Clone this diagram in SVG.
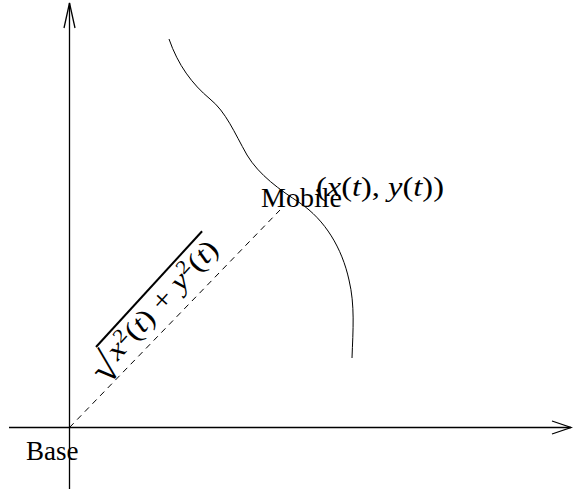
<svg xmlns="http://www.w3.org/2000/svg" width="573" height="489" viewBox="0 0 573 489">
<style>
.ax{stroke:#000;stroke-width:1.3;fill:none}
.cv{stroke:#000;stroke-width:1;fill:none}
.dash{stroke:#000;stroke-width:1;stroke-dasharray:6,5;fill:none}
.rm{font-family:"Liberation Serif",serif;fill:#000}
.it{font-style:italic}
</style>
<rect width="573" height="489" fill="#fff"/>
<g id="axes">
<line class="ax" x1="69.5" y1="489" x2="69.5" y2="3"/>
<polyline class="ax" points="64,28 69.5,3 75,28"/>
<line class="ax" x1="9" y1="427.5" x2="571" y2="427.5"/>
<polyline class="ax" points="552,421 571,427.5 552,434"/>
</g>
<g id="connectors">
<line class="dash" x1="69.5" y1="427.5" x2="280" y2="210"/>
</g>
<g id="trajectory">
<path class="cv" d="M169,39 C178,65 192,84 210,99 C226,112 234,132 247,155 C259,175 280,190 300,203 C325,220 342,248 349,280 C355,305 353,330 352,358"/>
</g>
<g id="base">
<text class="rm" x="26" y="460" font-size="27">Base</text>
</g>
<g id="mobile">
<text class="rm" x="261" y="207" font-size="28">Mobile</text>
<text class="rm" x="316" y="196" font-size="28" textLength="128" lengthAdjust="spacingAndGlyphs">(<tspan class="it">x</tspan>(<tspan class="it">t</tspan>), <tspan class="it">y</tspan>(<tspan class="it">t</tspan>))</text>
</g>
<g id="distance" transform="translate(96,347) rotate(-47.5)">
<line x1="0" y1="0" x2="157" y2="0" stroke="#000" stroke-width="2"/>
<text class="rm" x="-21" y="35" font-size="42">√</text>
<text class="rm" x="4" y="26" font-size="28" textLength="151" lengthAdjust="spacingAndGlyphs"><tspan class="it">x</tspan><tspan font-size="19" dy="-10">2</tspan><tspan dy="10">(</tspan><tspan class="it">t</tspan>) + <tspan class="it">y</tspan><tspan font-size="19" dy="-10">2</tspan><tspan dy="10">(</tspan><tspan class="it">t</tspan>)</text>
</g>
</svg>
